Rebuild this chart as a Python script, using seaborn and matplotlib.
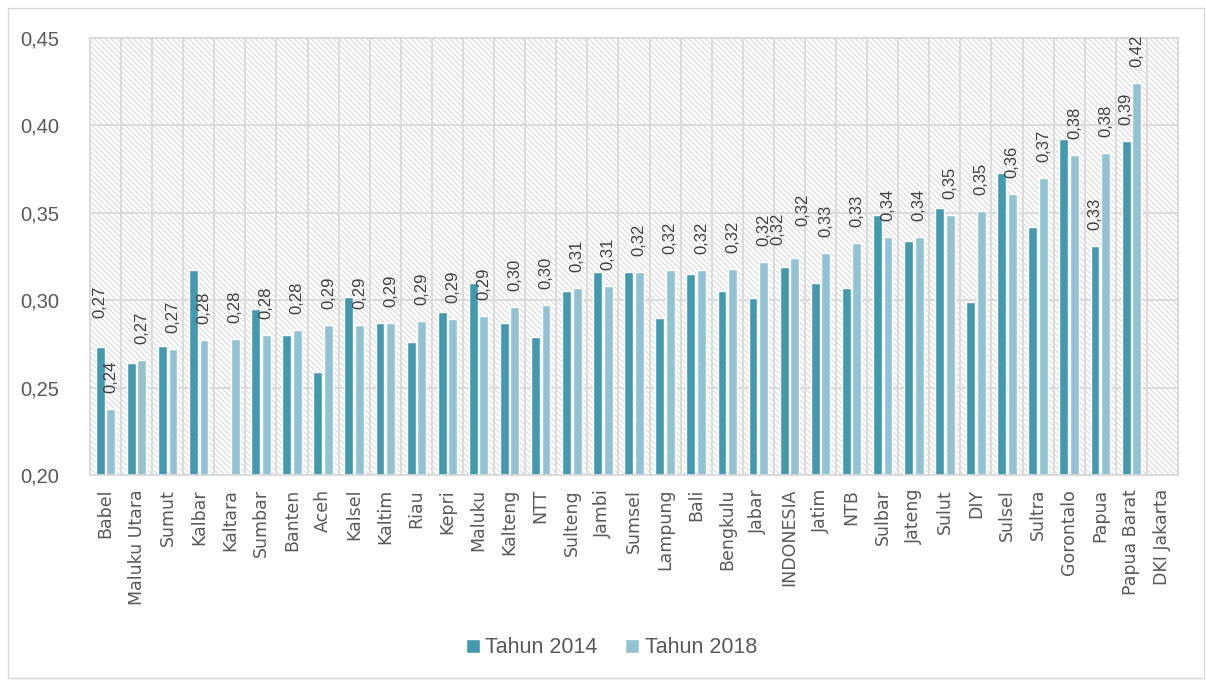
import numpy as np
import pandas as pd
import seaborn as sns
import matplotlib.pyplot as plt
from matplotlib.patches import Rectangle


provinces = ["Babel", "Maluku Utara", "Sumut", "Kalbar", "Kaltara", "Sumbar", "Banten",
             "Aceh", "Kalsel", "Kaltim", "Riau", "Kepri", "Maluku", "Kalteng", "NTT",
             "Sulteng", "Jambi", "Sumsel", "Lampung", "Bali", "Bengkulu", "Jabar",
             "INDONESIA", "Jatim", "NTB", "Sulbar", "Jateng", "Sulut", "DIY", "Sulsel",
             "Sultra", "Gorontalo", "Papua", "Papua Barat", "DKI Jakarta"]
tahun_2014 = [0.273, 0.264, 0.274, 0.317, np.nan, 0.295, 0.280, 0.259, 0.302, 0.287,
              0.276, 0.293, 0.310, 0.287, 0.279, 0.305, 0.316, 0.316, 0.290, 0.315,
              0.305, 0.301, 0.319, 0.310, 0.307, 0.349, 0.334, 0.353, 0.299, 0.373,
              0.342, 0.392, 0.331, 0.391, np.nan]
tahun_2018 = [0.238, 0.266, 0.272, 0.277, 0.278, 0.280, 0.283, 0.286, 0.286, 0.287,
              0.288, 0.289, 0.291, 0.296, 0.297, 0.307, 0.308, 0.316, 0.317, 0.317,
              0.318, 0.322, 0.324, 0.327, 0.333, 0.336, 0.336, 0.349, 0.351, 0.361,
              0.370, 0.383, 0.384, 0.424, np.nan]
series = ["Tahun 2014", "Tahun 2018"]
# provinces whose 2014 bar also carries a value label
label_2014 = ["Babel", "INDONESIA", "Papua", "Papua Barat"]

n = len(provinces)
df = pd.DataFrame({
    "prov": provinces * 2,
    "tahun": [series[0]] * n + [series[1]] * n,
    "nilai": tahun_2014 + tahun_2018,
})

sns.set_theme(style="white")
plt.rcParams['font.family'] = ['DejaVu Sans']
plt.rcParams['hatch.linewidth'] = 0.6
plt.rcParams['hatch.color'] = '#d0d0d0'

grid_col = '#d9d9d9'
txt_col = '#595959'
num_font = ['Liberation Sans', 'DejaVu Sans']

fig = plt.figure(figsize=(12.06, 6.81), dpi=100)
ax = fig.add_axes([0.0746, 0.3025, 0.9022, 0.6417])

# hatched plot background
ax.add_patch(Rectangle((0, 0), 1, 1, transform=ax.transAxes, facecolor='white',
                       edgecolor='#d0d0d0', hatch='\\\\\\\\\\\\', lw=0, zorder=0))

sns.barplot(data=df, x="prov", y="nilai", hue="tahun", order=provinces,
            hue_order=series, palette=['#4299b0', '#92c3d4'], saturation=1,
            width=0.68, gap=0.16, errorbar=None, ax=ax)

ax.set_xlim(-0.5, n - 0.5)
ax.set_ylim(0.20, 0.45)
yt = np.arange(0.20, 0.451, 0.05)
ax.set_yticks(yt)
ax.set_yticklabels([f"{t:.2f}".replace('.', ',') for t in yt], fontsize=14.5,
                   color=txt_col, family=num_font)
ax.set_xticks(range(n))
ax.set_xticklabels(provinces, rotation=90, fontsize=12.5, color=txt_col)
ax.set_xticks(np.arange(-0.5, n, 1), minor=True)
ax.set_xlabel('')
ax.set_ylabel('')
ax.tick_params(which='both', length=0)
ax.tick_params(axis='y', pad=22)
ax.tick_params(axis='x', pad=10)

ax.set_axisbelow(True)
ax.grid(which='minor', axis='x', color=grid_col, lw=1.3)
ax.grid(which='major', axis='y', color=grid_col, lw=1.3)
ax.grid(which='major', axis='x', visible=False)
for s in ax.spines.values():
    s.set_color(grid_col)
    s.set_linewidth(1.3)

# value labels (offsets in pixels)
offsets = {("Babel", "Tahun 2014"): (0, 29),
           ("INDONESIA", "Tahun 2014"): (-6, 22),
           ("INDONESIA", "Tahun 2018"): (8, 32)}
for cont, ser in zip(ax.containers, series):
    for bar in cont:
        h = bar.get_height()
        if np.isnan(h):
            continue
        xc = bar.get_x() + bar.get_width() / 2
        prov = provinces[int(round(xc))]
        if ser == series[0] and prov not in label_2014:
            continue
        dx, dy = offsets.get((prov, ser), (0, 16))
        ax.annotate(f"{h:.2f}".replace('.', ','), (xc, h), xytext=(dx * 0.72, dy * 0.72),
                    textcoords='offset points', rotation=90, ha='center', va='bottom',
                    fontsize=12, color='#404040', family=num_font)

handles, labels = ax.get_legend_handles_labels()
ax.legend_.remove()
fig.legend(handles, labels, loc='center', bbox_to_anchor=(0.507, 0.0485), ncol=2,
           frameon=False, prop={'family': num_font, 'size': 15.5},
           handlelength=0.65, handleheight=0.65,
           handletextpad=0.25, columnspacing=1.3, labelcolor=txt_col)

# outer chart frame
fig.patches.append(Rectangle((8 / 1206, 3 / 681), 1196 / 1206, 670 / 681,
                             transform=fig.transFigure, fill=False,
                             edgecolor=grid_col, lw=1))

fig.savefig('out.png', dpi=100)
